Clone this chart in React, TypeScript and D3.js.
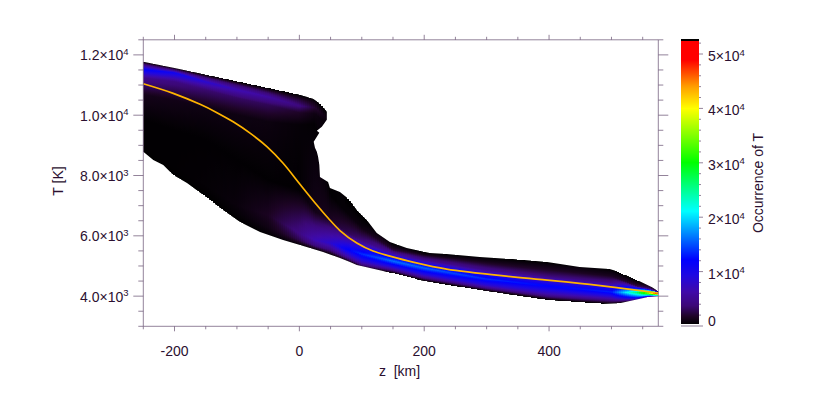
import React from "react";
import * as d3 from "d3";

const W = 830, H = 412;
const xRange = [143.3, 658.3], yRange = [326.3, 39.8];
const zDomain = [-250, 575], tDomain = [3000, 12500];
const occMax = 52600;

const zMajor = [-200, 0, 200, 400];
const zMinor = [-250, -150, -100, -50, 50, 100, 150, 250, 300, 350, 450, 500, 550];
const tMajor = [4000, 6000, 8000, 10000, 12000];
const tMinor = [3000, 3500, 4500, 5000, 5500, 6500, 7000, 7500, 8500, 9000, 9500, 10500, 11000, 11500, 12500];
const tLabels: [string, string][] = [["4.0", "3"], ["6.0", "3"], ["8.0", "3"], ["1.0", "4"], ["1.2", "4"]];
const occMajor = [10000, 20000, 30000, 40000, 50000];
const occMinor = [2000, 4000, 6000, 8000, 12000, 14000, 16000, 18000, 22000, 24000, 26000, 28000, 32000, 34000, 36000, 38000, 42000, 44000, 46000, 48000, 52000];

// colour table
const cmapOcc = [0, 1500, 3500, 6000, 9000, 12000, 16000, 21000, 25000, 30000, 35000, 40000, 44000, 49000, 52600];
const cmapCol = ["#000000", "#1e0426", "#3c0878", "#400aa8", "#2008e0", "#0000ff", "#0070ff", "#00ffff", "#00ff90", "#00ff00", "#80ff00", "#ffff00", "#ffa000", "#ff0000", "#ff0000"];

// mean temperature curve
const meanZ = [-250, -202, -159, -132, -106, -79, -52, -26, 1, 28, 46, 65, 92, 118, 145, 182, 236, 342, 397, 449, 502, 575];
const meanT = [11043, 10725, 10360, 10085, 9780, 9405, 8960, 8408, 7711, 7023, 6591, 6176, 5761, 5495, 5329, 5130, 4897, 4640, 4530, 4425, 4300, 4105];

// outline of the populated region
const edgeZ = [-250, -202, -148, -95, -42, 1, 22, 36, 44, 44, 36, 28, 32, 23, 25, 28, 30, 32, 33, 46, 49, 65, 81, 92, 108, 124, 145, 172, 209, 236, 289, 342, 397, 449, 497, 513, 541, 565, 575, 575, 557, 513, 477, 422, 397, 342, 289, 236, 182, 161, 134, 92, 81, 65, 38, 1, -26, -63, -95, -127, -154, -180, -202, -218, -234, -250];
const edgeT = [11774, 11574, 11342, 11119, 10910, 10677, 10544, 10345, 10112, 9847, 9614, 9481, 9415, 9116, 8917, 8784, 8618, 8352, 7953, 7787, 7588, 7455, 7189, 6857, 6525, 6093, 5794, 5595, 5428, 5395, 5296, 5229, 5130, 4963, 4897, 4797, 4532, 4299, 4166, 4000, 3967, 3767, 3734, 3834, 3867, 4033, 4199, 4365, 4565, 4664, 4831, 5030, 5130, 5262, 5462, 5694, 5860, 6126, 6458, 6923, 7355, 7754, 8020, 8352, 8518, 8784];

// occurrence profile per height: temperature levels and counts at them
const knotZ = [-250, -200, -150, -100, -50, 0, 25, 50, 75, 100, 150, 200, 300, 400, 500, 540, 560, 575];
const levelT = [
  [11780, 11670, 11507, 11240, 10680, 9850, 9200, 8950, 8700],
  [11580, 11490, 11408, 11110, 10510, 9510, 8350, 8150, 8000],
  [11345, 11242, 11109, 10843, 10245, 9180, 7690, 7500, 7300],
  [11120, 11010, 10843, 10578, 10013, 8518, 7020, 6750, 6500],
  [10900, 10777, 10610, 10345, 9780, 7853, 6690, 6300, 5950],
  [10680, 10510, 10310, 10080, 9680, 7520, 6092, 5850, 5690],
  [10540, 10400, 10250, 10050, 9700, 6800, 5860, 5680, 5530],
  [10000, 9900, 9800, 9600, 7355, 6525, 5760, 5560, 5360],
  [7300, 7200, 7100, 7000, 6790, 6126, 5560, 5340, 5160],
  [6690, 6600, 6500, 6400, 6260, 5860, 5395, 5130, 4930],
  [5760, 5700, 5650, 5590, 5530, 5400, 5160, 4950, 4760],
  [5460, 5430, 5400, 5370, 5330, 5200, 4930, 4700, 4500],
  [5300, 5250, 5200, 5130, 5063, 4864, 4565, 4350, 4166],
  [5130, 5080, 5030, 4950, 4864, 4664, 4332, 4080, 3867],
  [4900, 4850, 4800, 4730, 4664, 4465, 4133, 3920, 3734],
  [4532, 4480, 4430, 4380, 4330, 4266, 4116, 3960, 3834],
  [4399, 4360, 4320, 4280, 4240, 4190, 4100, 4025, 3967],
  [4170, 4160, 4150, 4140, 4130, 4115, 4085, 4035, 3985],
];
const levelOcc = [
  [0, 4000, 11500, 4500, 1000, 120, 120, 80, 0],
  [0, 4000, 10500, 4000, 900, 100, 120, 80, 0],
  [0, 3500, 8000, 3300, 700, 100, 200, 120, 0],
  [0, 3000, 6500, 3000, 700, 100, 450, 250, 0],
  [0, 2500, 5500, 2700, 600, 120, 1300, 800, 0],
  [0, 2000, 3800, 1500, 300, 100, 4000, 2400, 0],
  [0, 1000, 1800, 700, 150, 900, 6500, 3800, 0],
  [0, 150, 200, 150, 100, 1300, 8000, 4500, 0],
  [0, 50, 100, 200, 300, 2500, 11500, 6000, 0],
  [0, 100, 200, 400, 700, 3500, 13500, 7000, 0],
  [0, 300, 700, 1300, 2000, 6000, 16000, 8000, 0],
  [0, 300, 600, 1000, 2000, 4500, 15500, 8000, 0],
  [0, 300, 600, 1100, 1800, 4500, 13500, 7500, 0],
  [0, 300, 600, 1000, 1500, 3500, 12000, 6500, 0],
  [0, 300, 600, 900, 1300, 4000, 13000, 6000, 0],
  [0, 500, 1000, 1700, 2500, 11000, 26000, 13000, 0],
  [0, 800, 1500, 2500, 4000, 18000, 38000, 18000, 0],
  [0, 1000, 2000, 4000, 8000, 30000, 53000, 30000, 0],
];

const TEXT = "#2b1030";
const AXIS = "#6f5a78";
const FONT = "'Liberation Sans', Arial, sans-serif";

const x = d3.scaleLinear().domain(zDomain).range(xRange);
const y = d3.scaleLinear().domain(tDomain).range(yRange);
const barY = d3.scaleLinear().domain([0, occMax]).range([324, 40]);
const tickY = d3.scaleLinear().domain([0, 50000]).range([326, 54]);
const colour = d3.scaleLinear<string>().domain(cmapOcc).range(cmapCol).interpolate(d3.interpolateRgb).clamp(true);

const STRIP = 2;
const strips = d3.range(143, 659, STRIP).map((px, i) => {
  const z = x.invert(px + STRIP / 2);
  const k = Math.min(knotZ.length - 2, Math.max(0, d3.bisectRight(knotZ, z) - 1));
  const f = Math.max(0, Math.min(1, (z - knotZ[k]) / (knotZ[k + 1] - knotZ[k])));
  const ts = levelT[k].map((v, j) => v + (levelT[k + 1][j] - v) * f);
  const os = levelOcc[k].map((v, j) => v + (levelOcc[k + 1][j] - v) * f);
  const y0 = y(ts[0]), y1 = y(ts[ts.length - 1]);
  const stops: { o: number; c: string }[] = [];
  for (let j = 0; j < ts.length - 1; j++) {
    for (let s = 0; s < 6; s++) {
      const g = s / 6;
      const yy = y(ts[j] + (ts[j + 1] - ts[j]) * g);
      stops.push({ o: (yy - y0) / (y1 - y0), c: colour(os[j] + (os[j + 1] - os[j]) * g) });
    }
  }
  stops.push({ o: 1, c: "#000000" });
  return { id: `s${i}`, px, y0, y1, stops };
});

const outline = d3.line<number>().x((_, i) => x(edgeZ[i])).y((_, i) => y(edgeT[i])).curve(d3.curveLinearClosed)(edgeZ) as string;
const meanPath = d3.line<number>().x((_, i) => x(meanZ[i])).y((_, i) => y(meanT[i])).curve(d3.curveCatmullRom)(meanZ) as string;
const barRows = d3.range(40, 324);

const zTicks = [...zMajor.map(v => ({ v, l: 5 })), ...zMinor.map(v => ({ v, l: 3 }))];
const tTicks = [...tMajor.map(v => ({ v, l: 10 })), ...tMinor.map(v => ({ v, l: 5 }))];

export default function App() {
  const [xa, xb] = xRange;
  const [yb, ya] = yRange;
  return (
    <svg width={W} height={H} style={{ position: "absolute", left: 0, top: 0, display: "block", background: "#fff" }} fontFamily={FONT} fontSize={14} fill={TEXT}>
      <defs>
        <clipPath id="mask"><path d={outline} /></clipPath>
        {strips.map(s => (
          <linearGradient key={s.id} id={s.id} gradientUnits="userSpaceOnUse" x1={0} x2={0} y1={s.y0} y2={s.y1}>
            {s.stops.map((t, i) => <stop key={i} offset={t.o} stopColor={t.c} />)}
          </linearGradient>
        ))}
      </defs>

      <g clipPath="url(#mask)">
        {strips.map(s => (
          <rect key={s.id} x={s.px} y={s.y0} width={STRIP} height={Math.max(0, s.y1 - s.y0)} fill={`url(#${s.id})`} shapeRendering="crispEdges" />
        ))}
      </g>
      <path d={meanPath} fill="none" stroke="#ffb400" strokeWidth={1.7} />

      {/* plot frame */}
      <g stroke={AXIS} strokeWidth={1} strokeOpacity={0.75} fill="none">
        <path d={`M${xa},${ya}H${xb}V${yb}H${xa}Z`} />
        {zTicks.map(t => (
          <g key={t.v}>
            <line x1={x(t.v)} x2={x(t.v)} y1={yb} y2={yb + t.l} />
            <line x1={x(t.v)} x2={x(t.v)} y1={ya} y2={ya - t.l} />
          </g>
        ))}
        {tTicks.map(t => (
          <g key={t.v}>
            <line x1={xa - t.l} x2={xa} y1={y(t.v)} y2={y(t.v)} />
            <line x1={xb} x2={xb + t.l} y1={y(t.v)} y2={y(t.v)} />
          </g>
        ))}
      </g>

      {zMajor.map(v => (
        <text key={v} x={x(v)} y={356} textAnchor="middle">{v}</text>
      ))}
      {tMajor.map((v, i) => (
        <text key={v} x={128.5} y={y(v) + 5.5} textAnchor="end">
          {tLabels[i][0]}×10<tspan dy={-5.5} fontSize={9.5}>{tLabels[i][1]}</tspan>
        </text>
      ))}
      <text x={399.5} y={376} textAnchor="middle" style={{ whiteSpace: "pre" }}>z  [km]</text>
      <text transform="translate(63,181) rotate(-90)" textAnchor="middle">T [K]</text>

      {/* colour bar */}
      <g shapeRendering="crispEdges">
        {barRows.map(r => (
          <rect key={r} x={681} y={r} width={18} height={1} fill={colour(barY.invert(r))} />
        ))}
        <rect x={681} y={39} width={18} height={2} fill="#000" />
      </g>
      <line x1={681} x2={699} y1={326} y2={326} stroke={AXIS} strokeOpacity={0.8} />
      <g stroke={AXIS} strokeOpacity={0.75}>
        {occMajor.map(v => <line key={v} x1={699} x2={703} y1={tickY(v)} y2={tickY(v)} />)}
        {occMinor.map(v => <line key={v} x1={699} x2={701} y1={tickY(v)} y2={tickY(v)} />)}
        <line x1={699} x2={703} y1={tickY(0)} y2={tickY(0)} />
      </g>
      {occMajor.map((v, i) => (
        <text key={v} x={708} y={tickY(v) + 7}>
          {i + 1}×10<tspan dy={-5.5} fontSize={9.5}>4</tspan>
        </text>
      ))}
      <text x={708} y={326}>0</text>
      <text transform="translate(763,183) rotate(-90)" textAnchor="middle">Occurrence of T</text>
    </svg>
  );
}
